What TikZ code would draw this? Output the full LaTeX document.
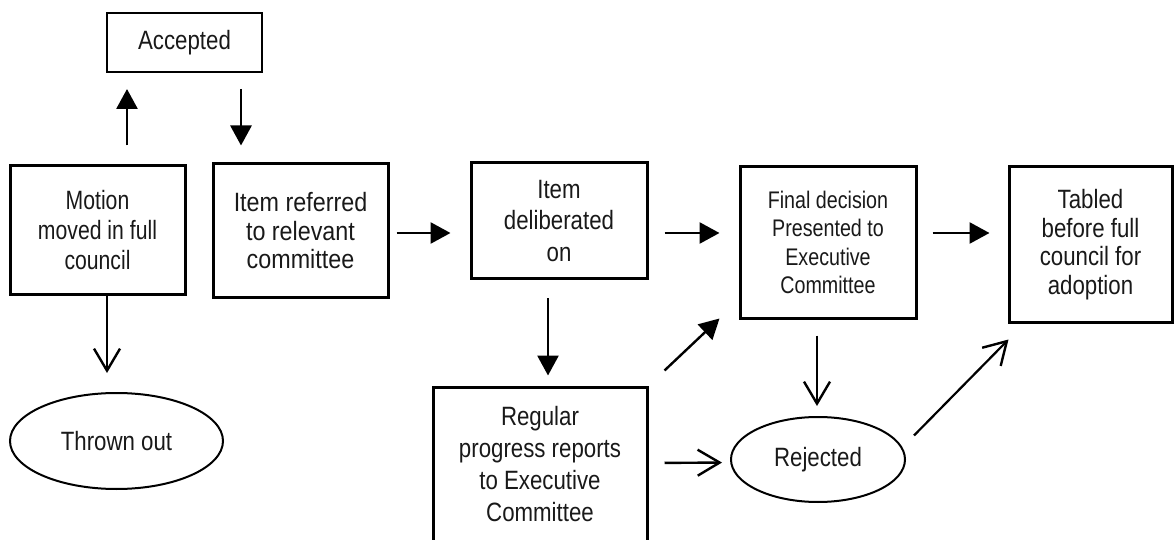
\documentclass[tikz,border=0pt]{standalone}
\usepackage{fontspec}
\setmainfont[FakeStretch=0.84]{Liberation Sans}
\newfontfamily\motionfont[FakeStretch=0.80]{Liberation Sans}
\newfontfamily\referfont[FakeStretch=0.88]{Liberation Sans}
\newfontfamily\finalfont[FakeStretch=0.82]{Liberation Sans}
\usetikzlibrary{arrows.meta,shapes.geometric}
\begin{document}
\begin{tikzpicture}[x=1pt,y=-1pt,
  txt/.style={align=center,font=\fontsize{26.5}{30}\selectfont,text=black!90,inner sep=0pt},
  stepbox/.style={txt,draw,line width=3pt,rectangle},
  thinbox/.style={txt,draw,line width=2pt,rectangle},
  oval/.style={txt,draw,line width=2pt,ellipse},
  solidarrow/.style={line width=2.8pt,-{Triangle[length=20pt,width=21pt]}},
  openarrow/.style={line width=2pt,-{Straight Barb[length=22pt,width=26pt,line width=2.4pt]}}]
\useasboundingbox (0,0) rectangle (1176,540);

% process boxes
\node[thinbox,minimum width=155pt,minimum height=59pt] (accepted) at (184.5,42.5) {Accepted};
\node[stepbox,minimum width=175pt,minimum height=129pt,font=\motionfont\fontsize{26.5}{30}\selectfont] (motion) at (97.5,230.5) {Motion\\moved in full\\council};
\node[stepbox,minimum width=175pt,minimum height=134pt,font=\referfont\fontsize{26.5}{28.5}\selectfont] (referred) at (300.5,231) {Item referred\\to relevant\\committee};
\node[stepbox,minimum width=176pt,minimum height=116pt,font=\fontsize{26.5}{31.5}\selectfont] (delib) at (559,221) {Item\\deliberated\\on};
\node[stepbox,minimum width=176pt,minimum height=151pt,font=\finalfont\fontsize{24}{28.5}\selectfont] (final) at (828,242.5) {Final decision\\Presented to\\Executive\\Committee};
\node[stepbox,minimum width=163pt,minimum height=155pt,font=\fontsize{26.5}{28.7}\selectfont] (tabled) at (1090.5,244.5) {Tabled\\before full\\council for\\adoption};
\node[stepbox,minimum width=214pt,minimum height=154pt,font=\fontsize{26.5}{31.7}\selectfont] (regular) at (540,464) {Regular\\progress reports\\to Executive\\Committee};

% outcomes
\node[oval,minimum width=213pt,minimum height=96pt] (thrown) at (116.5,441) {Thrown out};
\node[oval,minimum width=174pt,minimum height=85pt] (rejected) at (818,459.5) {Rejected};

% connectors
\draw[solidarrow,shorten <=19pt,shorten >=16pt] ([xshift=29.5pt]motion.north) -- ([xshift=-57.5pt]accepted.south);
\draw[solidarrow,shorten <=16pt,shorten >=17pt] ([xshift=56.5pt]accepted.south) -- ([xshift=-59.5pt]referred.north);
\draw[openarrow,shorten >=19pt] ([xshift=9.5pt]motion.south) -- ([xshift=-9.5pt]thrown.north);
\draw[solidarrow,shorten <=7pt,shorten >=19pt] ([yshift=-2pt]referred.east) -- ([yshift=-12pt]delib.west);
\draw[solidarrow,shorten <=16pt,shorten >=19pt] ([yshift=-12pt]delib.east) -- ([yshift=9.5pt]final.west);
\draw[solidarrow,shorten <=15pt,shorten >=18pt] ([yshift=9.5pt]final.east) -- ([yshift=11.5pt]tabled.west);
\draw[solidarrow,shorten <=18pt,shorten >=10pt] ([xshift=-11pt]delib.south) -- ([xshift=8pt]regular.north);
\draw[solidarrow,line width=2.4pt] ([xshift=16pt,yshift=15pt]regular.north east) -- ([xshift=-19pt,yshift=1pt]final.south west);
\draw[openarrow,line width=2.4pt,shorten <=16pt,shorten >=8pt] ([yshift=1pt]regular.east) -- ([yshift=-3pt]rejected.west);
\draw[openarrow,shorten <=16pt,shorten >=10pt] ([xshift=-11pt]final.south) -- ([xshift=-1pt]rejected.north);
\draw[openarrow,line width=2.2pt] ([xshift=8pt,yshift=24pt]rejected.east) -- ([xshift=1pt,yshift=-16pt]tabled.south west);
\end{tikzpicture}
\end{document}
